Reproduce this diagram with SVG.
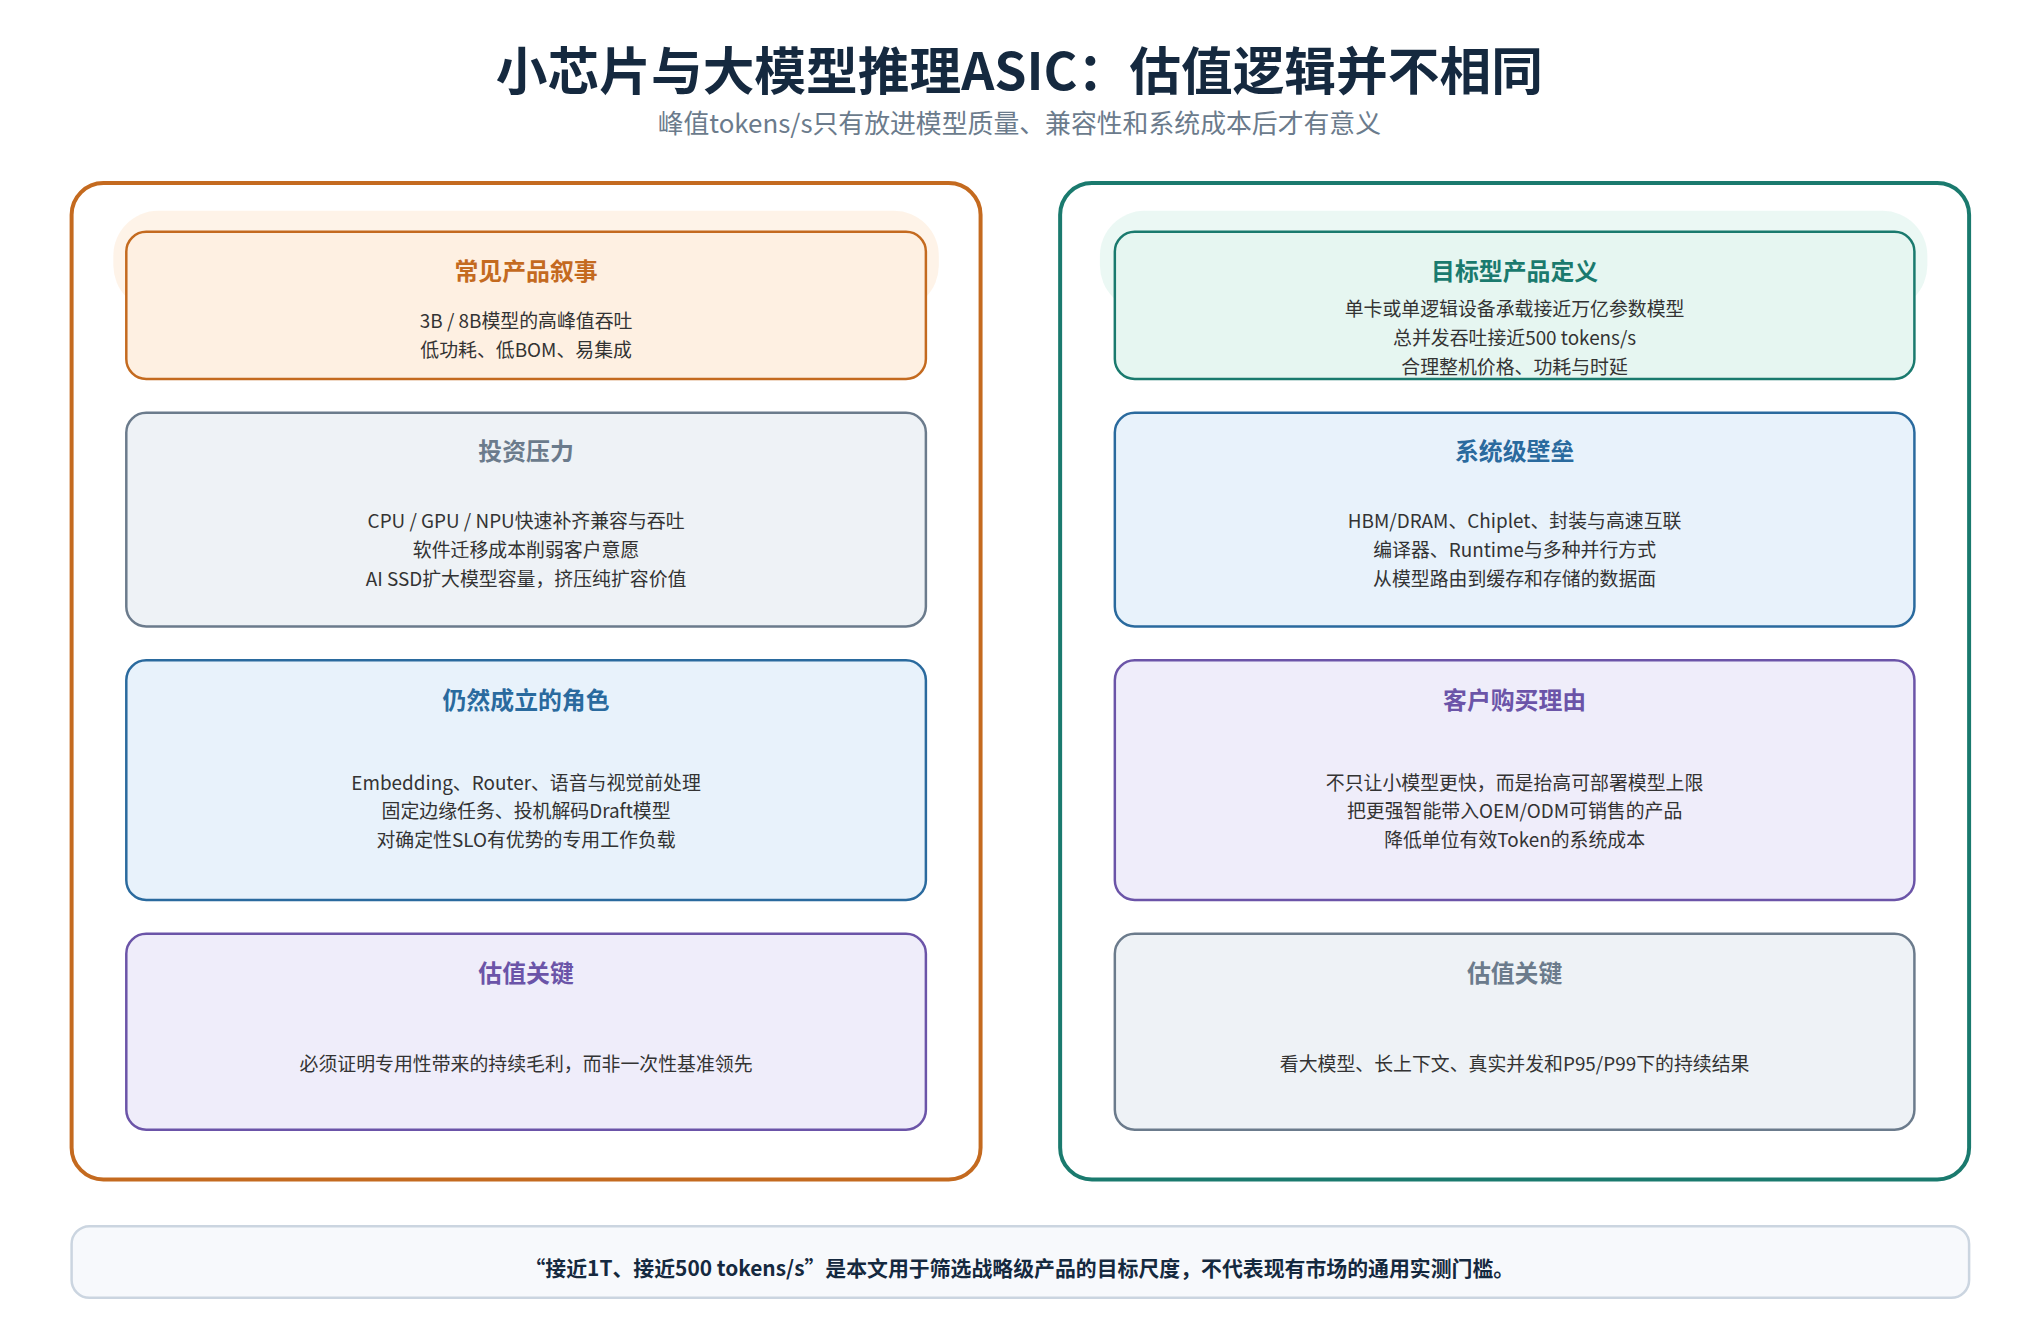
<svg xmlns="http://www.w3.org/2000/svg" width="2040" height="1344" viewBox="0 0 2040 1344">
<style>
text{font-family:"Noto Sans CJK SC","Noto Sans",sans-serif;text-anchor:middle}
.t{font-size:24px;font-weight:700}
.b{font-size:19px;fill:#333}
.box{stroke-width:2.5}
.or{fill:#FEF0E2;stroke:#C46A1F}.gr{fill:#EEF2F6;stroke:#6B7B8C}.bl{fill:#E8F2FB;stroke:#2A6A9E}.pu{fill:#EFEDFA;stroke:#6B54A8}.gn{fill:#E6F6F1;stroke:#1A7A6E}
</style>
<rect width="2040" height="1344" fill="#fff"/>
<g transform="scale(0.9945)">
<g id="header">
<text x="1025" y="90" font-size="52" font-weight="700" fill="#15293F">小芯片与大模型推理ASIC：估值逻辑并不相同</text>
<text x="1025" y="134" font-size="26" fill="#6B7B8C">峰值tokens/s只有放进模型质量、兼容性和系统成本后才有意义</text>
</g>
<g id="left-panel">
<rect x="72" y="184" width="914" height="1002" rx="32" fill="#fff" stroke="#C46A1F" stroke-width="4"/>
<rect x="114" y="212" width="830" height="100" rx="45" fill="#FEF0E2" opacity="0.8"/>
</g>
<g id="right-panel">
<rect x="1066" y="184" width="914" height="1002" rx="32" fill="#fff" stroke="#1A7A6E" stroke-width="4"/>
<rect x="1106" y="212" width="832" height="100" rx="45" fill="#E6F6F1" opacity="0.8"/>
</g>
<g id="connectors"></g>
<g id="l1"><rect class="box or" x="127" y="233" width="804" height="148" rx="20"/>
<text class="t" x="529" y="282" fill="#C46A1F">常见产品叙事</text>
<text class="b" x="529" y="330">3B / 8B模型的高峰值吞吐</text><text class="b" x="529" y="359">低功耗、低BOM、易集成</text></g>
<g id="l2"><rect class="box gr" x="127" y="415" width="804" height="215" rx="20"/>
<text class="t" x="529" y="463" fill="#6B7B8C">投资压力</text>
<text class="b" x="529" y="531">CPU / GPU / NPU快速补齐兼容与吞吐</text><text class="b" x="529" y="560">软件迁移成本削弱客户意愿</text><text class="b" x="529" y="589">AI SSD扩大模型容量，挤压纯扩容价值</text></g>
<g id="l3"><rect class="box bl" x="127" y="664" width="804" height="241" rx="20"/>
<text class="t" x="529" y="713" fill="#2A6A9E">仍然成立的角色</text>
<text class="b" x="529" y="794">Embedding、Router、语音与视觉前处理</text><text class="b" x="529" y="823">固定边缘任务、投机解码Draft模型</text><text class="b" x="529" y="852">对确定性SLO有优势的专用工作负载</text></g>
<g id="l4"><rect class="box pu" x="127" y="939" width="804" height="197" rx="20"/>
<text class="t" x="529" y="987" fill="#6B54A8">估值关键</text>
<text class="b" x="529" y="1077">必须证明专用性带来的持续毛利，而非一次性基准领先</text></g>
<g id="r1"><rect class="box gn" x="1121" y="233" width="804" height="148" rx="20"/>
<text class="t" x="1523" y="282" fill="#1A7A6E">目标型产品定义</text>
<text class="b" x="1523" y="318">单卡或单逻辑设备承载接近万亿参数模型</text><text class="b" x="1523" y="347">总并发吞吐接近500 tokens/s</text><text class="b" x="1523" y="376">合理整机价格、功耗与时延</text></g>
<g id="r2"><rect class="box bl" x="1121" y="415" width="804" height="215" rx="20"/>
<text class="t" x="1523" y="463" fill="#2A6A9E">系统级壁垒</text>
<text class="b" x="1523" y="531">HBM/DRAM、Chiplet、封装与高速互联</text><text class="b" x="1523" y="560">编译器、Runtime与多种并行方式</text><text class="b" x="1523" y="589">从模型路由到缓存和存储的数据面</text></g>
<g id="r3"><rect class="box pu" x="1121" y="664" width="804" height="241" rx="20"/>
<text class="t" x="1523" y="713" fill="#6B54A8">客户购买理由</text>
<text class="b" x="1523" y="794">不只让小模型更快，而是抬高可部署模型上限</text><text class="b" x="1523" y="823">把更强智能带入OEM/ODM可销售的产品</text><text class="b" x="1523" y="852">降低单位有效Token的系统成本</text></g>
<g id="r4"><rect class="box gr" x="1121" y="939" width="804" height="197" rx="20"/>
<text class="t" x="1523" y="987" fill="#6B7B8C">估值关键</text>
<text class="b" x="1523" y="1077">看大模型、长上下文、真实并发和P95/P99下的持续结果</text></g>
<g id="footer"><rect x="72" y="1233" width="1908" height="72" rx="18" fill="#F7F9FC" stroke="#CBD5E0" stroke-width="2.5"/>
<text x="1025" y="1283" font-size="21" font-weight="700" fill="#15293F">“接近1T、接近500 tokens/s”是本文用于筛选战略级产品的目标尺度，不代表现有市场的通用实测门槛。</text></g>
</g>
</svg>
